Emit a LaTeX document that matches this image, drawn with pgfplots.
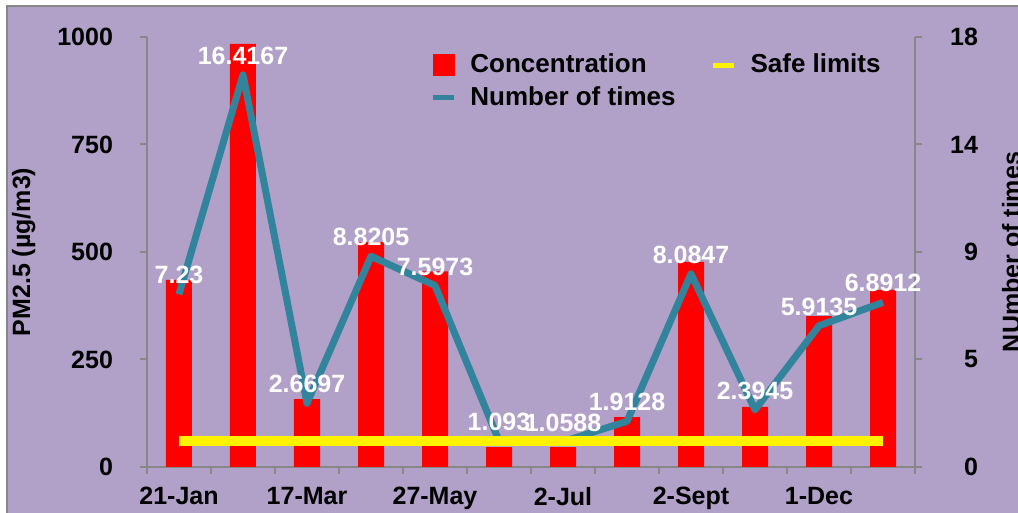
\documentclass[border=0pt]{standalone}
\usepackage{pgfplots}
\pgfplotsset{compat=1.18}
\usepackage{fontspec}
\setmainfont{Liberation Sans}

\definecolor{bgpurple}{HTML}{B1A0C7}
\definecolor{lineteal}{HTML}{31849B}
\definecolor{axisgray}{HTML}{878787}
\newcommand\lblfont{\fontsize{12.5}{15}\selectfont\bfseries}
\newcommand\legfont{\fontsize{13}{15}\selectfont\bfseries}

\pgfplotsset{
  common/.style={
    scale only axis, width=384pt, height=215pt,
    at={(73.5pt,23pt)}, anchor=south west,
    xmin=0.5, xmax=12.5,
    /pgf/number format/assume math mode=true,
    /pgf/number format/1000 sep={},
  },
}

\begin{document}
\begin{tikzpicture}[x=1pt,y=1pt]
\useasboundingbox (0,0) rectangle (509,256.5);
\fill[white] (0,0) rectangle (509,256.5);
\fill[bgpurple] (3.5,-2) rectangle (512,253.5);
\draw[axisgray, line width=1pt] (3.5,-2) -- (3.5,253.5) -- (512,253.5);

% concentration bars, left axis
\begin{axis}[common,
  axis x line*=bottom, axis y line*=left,
  axis line style={-, axisgray, line width=1pt},
  tick style={axisgray, line width=1pt},
  tick align=outside, major tick length=3.5pt,
  ymin=0, ymax=1000, ytick={0,250,500,750,1000},
  yticklabel style={font=\lblfont, xshift=-10pt},
  xtick={0.5,1.5,...,12.5}, xticklabels={},
  extra x ticks={1,3,5,7,9,11},
  extra x tick labels={21-Jan,17-Mar,27-May,2-Jul,2-Sept,1-Dec},
  extra x tick style={tick style={draw=none}},
  xticklabel style={font=\lblfont, yshift=-3pt},
  ylabel={PM2.5 (µg/m3)},
  ylabel style={font=\lblfont, at={(axis description cs:0,0.5)}, anchor=north, yshift=71pt},
]
\addplot[ybar, bar width=13pt, fill=red, draw=none] coordinates {
  (1,435) (2,984) (3,158) (4,523) (5,455) (6,46)
  (7,46) (8,116) (9,477) (10,140) (11,351) (12,412)
};
\end{axis}

% number of times, right axis
\begin{axis}[common,
  axis x line=none, axis y line*=right,
  axis line style={-, axisgray, line width=1pt},
  tick style={axisgray, line width=1pt},
  tick align=outside, major tick length=3.5pt,
  ymin=0, ymax=18, ytick={0,4.5,9,13.5,18}, yticklabels={0,5,9,14,18},
  yticklabel style={font=\lblfont, anchor=east, xshift=31.5pt},
  ylabel={NUmber of times},
  ylabel style={font=\lblfont, at={(axis description cs:1,0.5)}, anchor=north, yshift=-40pt},
  legend columns=2,
  legend cell align=left,
  legend style={draw=none, fill=none, font=\legfont,
    at={(axis description cs:0.3607,0.975)}, anchor=north west,
    nodes={inner ysep=1pt}, row sep=3.5pt,
    /tikz/every odd column/.append style={column sep=5pt},
    /tikz/every even column/.append style={column sep=15.5pt}},
]
\addlegendimage{legend image code/.code={\fill[red] (0pt,-5.25pt) rectangle (10.5pt,5.25pt);}}
\addlegendentry{Concentration}
\addlegendimage{legend image code/.code={\draw[yellow, line width=2.5pt] (0pt,0pt) -- (10.5pt,0pt);}}
\addlegendentry{Safe limits}
\addplot[lineteal, line width=3.5pt, line join=round,
  legend image code/.code={\draw[line width=2.5pt] (0pt,0pt) -- (10.5pt,0pt);},
  nodes near coords, point meta=explicit symbolic,
  every node near coord/.style={white, font=\lblfont, anchor=south}]
coordinates {
  (1,7.23) [7.23]
  (2,16.4167) [16.4167]
  (3,2.6697) [2.6697]
  (4,8.8205) [8.8205]
  (5,7.5973) [7.5973]
  (6,1.093) [1.093]
  (7,1.0588) [1.0588]
  (8,1.9128) [1.9128]
  (9,8.0847) [8.0847]
  (10,2.3945) [2.3945]
  (11,5.9135) [5.9135]
  (12,6.8912) [6.8912]
};
\addlegendentry{Number of times}
\end{axis}

% safe limits, left scale
\begin{axis}[common, hide axis, ymin=0, ymax=1000]
\addplot[yellow, line width=5pt] coordinates {
  (1,60) (2,60) (3,60) (4,60) (5,60) (6,60)
  (7,60) (8,60) (9,60) (10,60) (11,60) (12,60)
};
\end{axis}
\end{tikzpicture}
\end{document}
